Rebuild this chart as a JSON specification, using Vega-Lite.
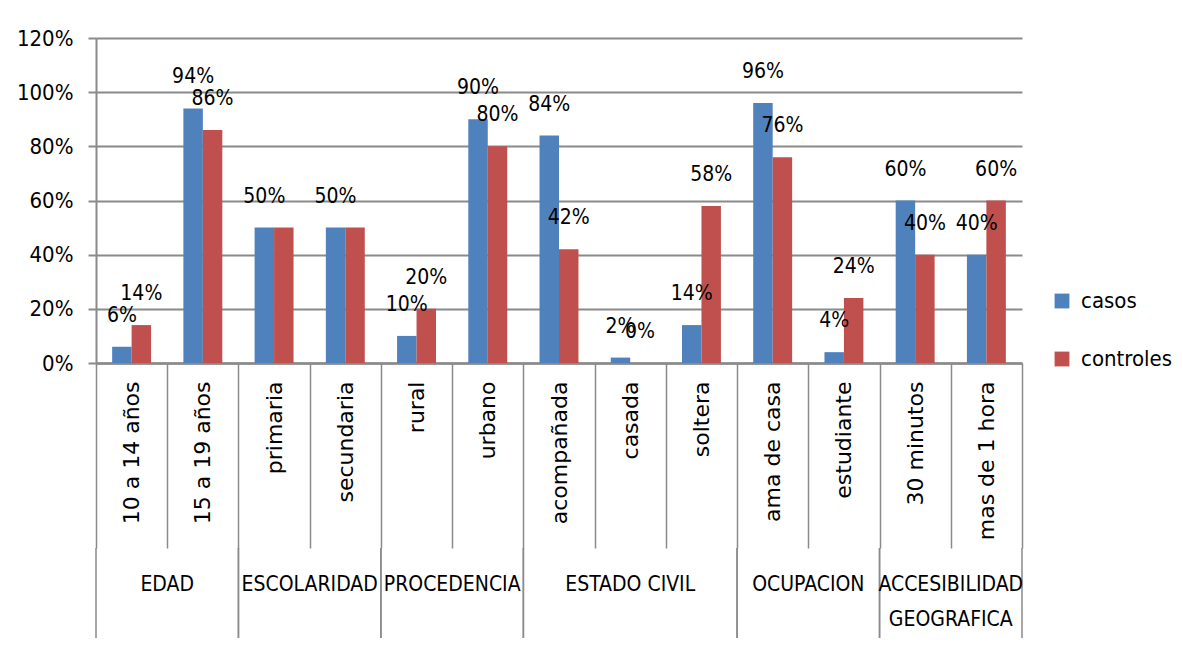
{
  "$schema": "https://vega.github.io/schema/vega-lite/v6.json",
  "padding": {"left": 16, "top": 27, "right": 5, "bottom": 5},
  "bounds": "flush",
  "spacing": 185,
  "config": {
    "view": {"stroke": null},
    "font": "DejaVu Sans Condensed, Liberation Sans, sans-serif",
    "text": {"color": "#000000"}
  },
  "datasets": {
    "barras": [
      {"categoria": "10 a 14 años", "serie": "casos", "valor": 0.06, "rotulo": true},
      {"categoria": "10 a 14 años", "serie": "controles", "valor": 0.14, "rotulo": true},
      {"categoria": "15  a 19 años", "serie": "casos", "valor": 0.94, "rotulo": true},
      {"categoria": "15  a 19 años", "serie": "controles", "valor": 0.86, "rotulo": true},
      {"categoria": "primaria", "serie": "casos", "valor": 0.50, "rotulo": true},
      {"categoria": "primaria", "serie": "controles", "valor": 0.50, "rotulo": false},
      {"categoria": "secundaria", "serie": "casos", "valor": 0.50, "rotulo": true},
      {"categoria": "secundaria", "serie": "controles", "valor": 0.50, "rotulo": false},
      {"categoria": "rural", "serie": "casos", "valor": 0.10, "rotulo": true},
      {"categoria": "rural", "serie": "controles", "valor": 0.20, "rotulo": true},
      {"categoria": "urbano", "serie": "casos", "valor": 0.90, "rotulo": true},
      {"categoria": "urbano", "serie": "controles", "valor": 0.80, "rotulo": true},
      {"categoria": "acompañada", "serie": "casos", "valor": 0.84, "rotulo": true},
      {"categoria": "acompañada", "serie": "controles", "valor": 0.42, "rotulo": true},
      {"categoria": "casada", "serie": "casos", "valor": 0.02, "rotulo": true},
      {"categoria": "casada", "serie": "controles", "valor": 0.00, "rotulo": true},
      {"categoria": "soltera", "serie": "casos", "valor": 0.14, "rotulo": true},
      {"categoria": "soltera", "serie": "controles", "valor": 0.58, "rotulo": true},
      {"categoria": "ama de casa", "serie": "casos", "valor": 0.96, "rotulo": true},
      {"categoria": "ama de casa", "serie": "controles", "valor": 0.76, "rotulo": true},
      {"categoria": "estudiante", "serie": "casos", "valor": 0.04, "rotulo": true},
      {"categoria": "estudiante", "serie": "controles", "valor": 0.24, "rotulo": true},
      {"categoria": "30 minutos", "serie": "casos", "valor": 0.60, "rotulo": true},
      {"categoria": "30 minutos", "serie": "controles", "valor": 0.40, "rotulo": true},
      {"categoria": "mas de 1 hora", "serie": "casos", "valor": 0.40, "rotulo": true},
      {"categoria": "mas de 1 hora", "serie": "controles", "valor": 0.60, "rotulo": true}
    ],
    "grupos": [
      {"grupo": "EDAD", "primera": "10 a 14 años", "ultima": "15  a 19 años", "medio": null, "n": 2},
      {"grupo": "ESCOLARIDAD", "primera": "primaria", "ultima": "secundaria", "medio": null, "n": 2},
      {"grupo": "PROCEDENCIA", "primera": "rural", "ultima": "urbano", "medio": null, "n": 2},
      {"grupo": "ESTADO CIVIL", "primera": "acompañada", "ultima": "soltera", "medio": "casada", "n": 3},
      {"grupo": "OCUPACION", "primera": "ama de casa", "ultima": "estudiante", "medio": null, "n": 2},
      {"grupo": "ACCESIBILIDAD\nGEOGRAFICA", "primera": "30 minutos", "ultima": "mas de 1 hora", "medio": null, "n": 2}
    ]
  },
  "vconcat": [
    {
      "width": 926,
      "height": 325,
      "data": {"name": "barras"},
      "encoding": {
        "x": {
          "field": "categoria", "type": "nominal", "sort": null,
          "scale": {"domain": ["10 a 14 años", "15  a 19 años", "primaria", "secundaria", "rural", "urbano", "acompañada", "casada", "soltera", "ama de casa", "estudiante", "30 minutos", "mas de 1 hora"], "paddingInner": 0, "paddingOuter": 0},
          "axis": {
            "title": null, "tickBand": "extent", "tickSize": 185, "tickColor": "#8a8a8a", "tickWidth": 1.5,
            "domainColor": "#8a8a8a", "domainWidth": 2.5,
            "labelAngle": -90, "labelAlign": "right", "labelBaseline": "middle", "labelPadding": -167,
            "labelFont": "DejaVu Sans", "labelFontSize": 22, "labelColor": "#000000", "labelLimit": 0, "grid": false
          }
        },
        "xOffset": {"field": "serie", "type": "nominal", "sort": ["casos", "controles"], "scale": {"paddingInner": 0, "paddingOuter": 0.83}},
        "y": {
          "field": "valor", "type": "quantitative",
          "scale": {"domain": [0, 1.2], "nice": false},
          "axis": {
            "title": null, "values": [0, 0.2, 0.4, 0.6, 0.8, 1.0, 1.2], "format": ".0%",
            "tickSize": 8, "tickColor": "#8a8a8a", "tickWidth": 2, "labelPadding": 15,
            "domainColor": "#8a8a8a", "domainWidth": 2, "gridColor": "#8a8a8a", "gridWidth": 2,
            "labelFontSize": 22, "labelColor": "#000000"
          }
        }
      },
      "layer": [
        {
          "mark": {"type": "bar"},
          "encoding": {
            "color": {
              "field": "serie", "type": "nominal",
              "scale": {"domain": ["casos", "controles"], "range": ["#4F81BD", "#C0504D"]},
              "legend": {
                "title": null, "orient": "none", "legendX": 955, "legendY": 252,
                "symbolType": "square", "symbolSize": 220, "symbolStrokeWidth": 0,
                "labelFontSize": 22, "labelColor": "#000000", "labelOffset": 8, "rowPadding": 36, "labelLimit": 0
              }
            }
          }
        },
        {
          "transform": [{"filter": "datum.rotulo"}],
          "mark": {"type": "text", "dy": -31, "baseline": "middle", "fontSize": 21},
          "encoding": {"text": {"field": "valor", "type": "quantitative", "format": ".0%"}}
        }
      ]
    },
    {
      "width": 926,
      "height": 90,
      "data": {"name": "grupos"},
      "layer": [
        {
          "mark": {"type": "rule", "color": "#8a8a8a", "strokeWidth": 1.5},
          "encoding": {"x": {"field": "primera", "type": "nominal", "bandPosition": 0, "axis": null,
            "scale": {"domain": ["10 a 14 años", "15  a 19 años", "primaria", "secundaria", "rural", "urbano", "acompañada", "casada", "soltera", "ama de casa", "estudiante", "30 minutos", "mas de 1 hora"], "paddingInner": 0, "paddingOuter": 0}}}
        },
        {
          "mark": {"type": "rule", "color": "#8a8a8a", "strokeWidth": 1.5},
          "encoding": {"x": {"field": "ultima", "type": "nominal", "bandPosition": 1, "axis": null}}
        },
        {
          "transform": [{"filter": "datum.n == 2"}],
          "mark": {"type": "text", "baseline": "top", "dy": -19, "fontSize": 21, "lineBreak": "\n", "lineHeight": 35},
          "encoding": {"x": {"field": "ultima", "type": "nominal", "bandPosition": 0, "axis": null}, "text": {"field": "grupo", "type": "nominal"}}
        },
        {
          "transform": [{"filter": "datum.n == 3"}],
          "mark": {"type": "text", "baseline": "top", "dy": -19, "fontSize": 21},
          "encoding": {"x": {"field": "medio", "type": "nominal", "bandPosition": 0.5, "axis": null}, "text": {"field": "grupo", "type": "nominal"}}
        }
      ]
    }
  ]
}
